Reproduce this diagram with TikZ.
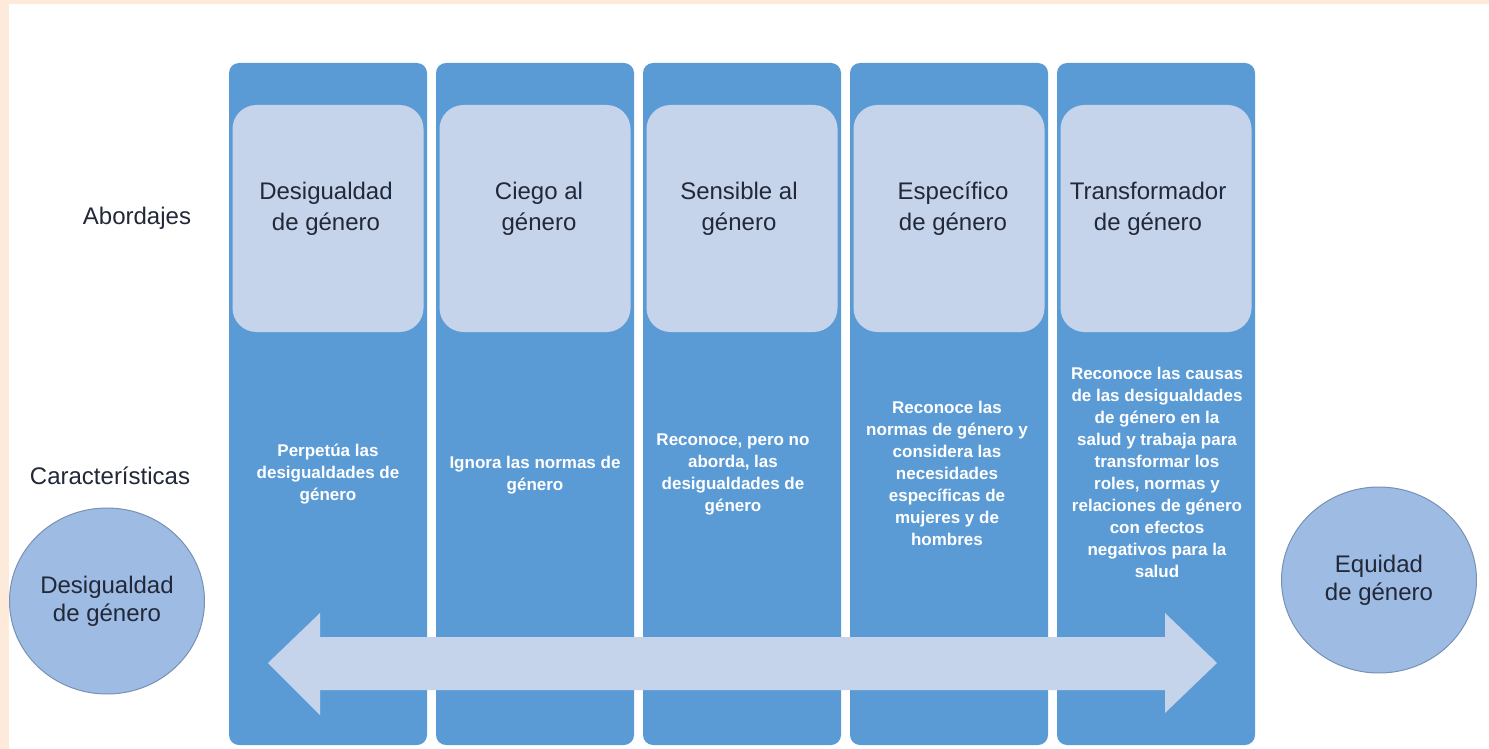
\documentclass[tikz,border=0pt]{standalone}
\usepackage{fontspec}
\setmainfont{Liberation Sans}
\usetikzlibrary{shapes.geometric}

\definecolor{colblue}{RGB}{91,155,213}
\definecolor{paleblue}{RGB}{197,212,234}
\definecolor{circblue}{RGB}{157,187,227}
\definecolor{circedge}{RGB}{120,145,180}
\definecolor{inkdark}{RGB}{34,40,56}
\definecolor{peach}{RGB}{253,234,218}

\begin{document}
\begin{tikzpicture}[x=0.5pt,y=-0.5pt,
  col/.style={fill=colblue,rounded corners=5pt,minimum width=99pt,minimum height=341pt,inner sep=0pt},
  headbox/.style={fill=paleblue,rounded corners=12pt,minimum width=95.5pt,minimum height=113.5pt,inner sep=0pt},
  title/.style={text=inkdark,font=\fontsize{12}{15.5}\selectfont,align=center},
  desc/.style={text=white,font=\fontsize{8.5}{11}\selectfont\bfseries,align=center},
  ends/.style={ellipse,draw=circedge,line width=0.5pt,fill=circblue,inner sep=0pt,minimum width=97.5pt,minimum height=93pt,text=inkdark,font=\fontsize{12}{14}\selectfont,align=center}]
\fill[white] (0,0) rectangle (1489,749);
\useasboundingbox (0,0) rectangle (1489,749);
\fill[peach] (0,0) rectangle (1489,4);
\fill[peach] (0,0) rectangle (9,749);

% columns
\node[col] (c1) at (328,404) {};
\node[col] (c2) at (535,404) {};
\node[col] (c3) at (742,404) {};
\node[col] (c4) at (949,404) {};
\node[col] (c5) at (1156,404) {};

\node[headbox] (h1) at (328,218.5) {};
\node[headbox] (h2) at (535,218.5) {};
\node[headbox] (h3) at (742,218.5) {};
\node[headbox] (h4) at (949,218.5) {};
\node[headbox] (h5) at (1156,218.5) {};

\node[title] (t1) at (326,208.5) {Desigualdad\\de género};
\node[title] (t2) at (539,208.5) {Ciego al\\género};
\node[title] (t3) at (739,208.5) {Sensible al\\género};
\node[title] (t4) at (953,208.5) {Específico\\de género};
\node[title] (t5) at (1148,208.5) {Transformador\\de género};

\node[desc] (d1) at (328,474) {Perpetúa las\\desigualdades de\\género};
\node[desc] (d2) at (535,475) {Ignora las normas de\\género};
\node[desc] (d3) at (733,474) {Reconoce, pero no\\aborda, las\\desigualdades de\\género};
\node[desc] (d4) at (947,473) {Reconoce las\\normas de género y\\considera las\\necesidades\\específicas de\\mujeres y de\\hombres};
\node[desc] (d5) at (1157,472) {Reconoce las causas\\de las desigualdades\\de género en la\\salud y trabaja para\\transformar los\\roles, normas y\\relaciones de género\\con efectos\\negativos para la\\salud};

% row labels
\node[title] (abord) at (137,218) {Abordajes};
\node[title] (carac) at (110,476) {Características};

% scale arrow
\fill[paleblue] (268,663) -- (320,613) -- (320,637) -- (1165,637) -- (1165,613)
  -- (1217,663) -- (1165,713) -- (1165,690) -- (320,690) -- (320,715) -- cycle;

\node[ends] (desig) at (107,601) {Desigualdad\\de género};
\node[ends] (equid) at (1379,580) {Equidad\\de género};
\end{tikzpicture}
\end{document}
